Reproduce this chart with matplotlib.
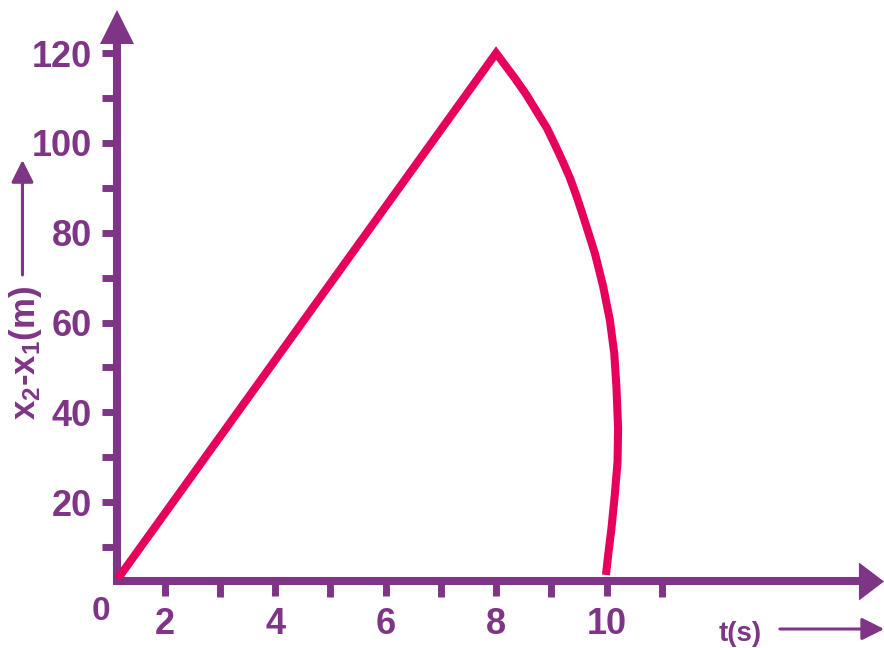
import matplotlib
matplotlib.use("Agg")
import matplotlib.pyplot as plt

# separation x2 - x1 (m) against time t (s)
t_rise = [1.15, 8.0]
d_rise = [3.0, 120.0]
t_fall = [8.34, 8.55, 8.74, 8.92, 9.07, 9.21, 9.34, 9.45, 9.55, 9.60, 9.79,
          9.94, 10.06, 10.14, 10.18, 10.21, 10.20, 10.15, 10.09, 10.03, 9.99]
d_fall = [114.4, 110.7, 106.9, 103.3, 99.5, 95.8, 92.1, 88.4, 84.7, 82.8, 75.4,
          68.0, 60.6, 53.2, 45.7, 36.5, 29.0, 21.6, 14.2, 8.2, 3.8]

x_major = [2, 4, 6, 8, 10]
x_minor = [3, 5, 7, 9, 11]
y_major = [20, 40, 60, 80, 100, 120]
y_minor = [10, 30, 50, 70, 90, 110]

purple = "#7f3586"
pink = "#e6005c"

plt.rcParams["font.family"] = ["Liberation Sans", "DejaVu Sans"]
plt.rcParams["mathtext.fontset"] = "custom"
plt.rcParams["mathtext.rm"] = "Liberation Sans:bold"
plt.rcParams["mathtext.default"] = "rm"

fig = plt.figure(figsize=(8.84, 6.48), dpi=100)
ax = fig.add_axes([0, 0, 1, 1])
ax.set_xlim(-0.987, 15.027)
ax.set_ylim(-12.47, 131.82)
ax.patch.set_alpha(0)

# axes crossing point
x0, y0 = 1.13, 2.45

for side in ["top", "right"]:
    ax.spines[side].set_visible(False)
ax.spines["left"].set_position(("data", x0))
ax.spines["bottom"].set_position(("data", y0))
ax.spines["left"].set_bounds(1.6, 122.6)
ax.spines["bottom"].set_bounds(1.06, 14.6)
for side in ["left", "bottom"]:
    ax.spines[side].set_color(purple)
    ax.spines[side].set_linewidth(5.8)
    ax.spines[side].set_capstyle("butt")

# arrow heads on the axes
ax.plot([x0], [125.9], marker="^", ms=24.5, color=purple, mew=0, clip_on=False)
ax.plot([14.8], [y0], marker=[(-0.66, -1), (0.66, 0), (-0.66, 1)], ms=27.4,
        color=purple, mew=0, clip_on=False)

ax.set_xticks(x_major)
ax.set_xticks(x_minor, minor=True)
ax.set_yticks(y_major)
ax.set_yticks(y_minor, minor=True)
ax.set_xticklabels([str(v) for v in x_major])
ax.set_yticklabels([str(v) for v in y_major])
ax.tick_params(which="both", direction="out", length=11, width=5, color=purple)
ax.tick_params(axis="x", which="minor", length=11.5)
ax.tick_params(axis="x", which="major", pad=8, labelsize=26, labelcolor=purple)
ax.tick_params(axis="y", which="major", pad=7, labelsize=26, labelcolor=purple)
for lab in ax.get_xticklabels() + ax.get_yticklabels():
    lab.set_fontweight("bold")

ax.text(0.84, -4.45, "0", fontsize=24, fontweight="bold", color=purple,
        ha="center", va="center")

# the separation curve
ax.plot(t_rise + t_fall, d_rise + d_fall, color=pink, lw=5.8,
        solid_joinstyle="miter", solid_capstyle="butt", zorder=3)

# axis names with arrows
ax.text(12.42, -9.35, "t(s)", fontsize=20, fontweight="bold", color=purple,
        ha="center", va="center")
ax.annotate("", xy=(15.03, -8.24), xytext=(13.14, -8.24),
            arrowprops=dict(arrowstyle="-|>", color=purple, lw=2.2,
                            mutation_scale=34, shrinkA=0, shrinkB=0),
            annotation_clip=False)

ax.text(-0.516, 53.2, r"x$_{2}$-x$_{1}$(m)", fontsize=25, fontweight="bold",
        color=purple, rotation=90, ha="center", va="center")
ax.annotate("", xy=(-0.58, 96.2), xytext=(-0.58, 70.6),
            arrowprops=dict(arrowstyle="-|>", color=purple, lw=2.2,
                            mutation_scale=34, shrinkA=0, shrinkB=0),
            annotation_clip=False)

fig.savefig("out.png", dpi=100)
